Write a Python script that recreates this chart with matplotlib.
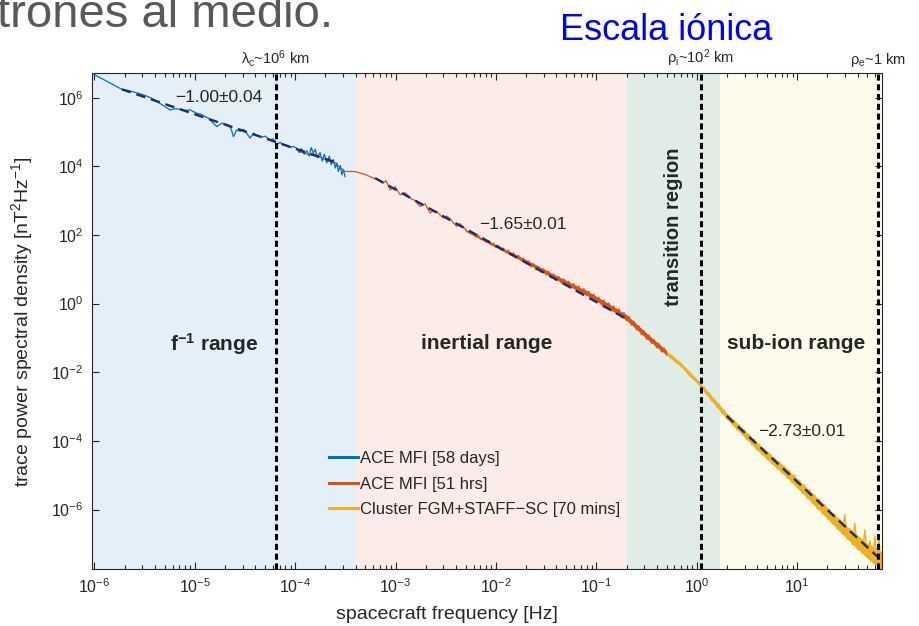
"""Solar wind magnetic field spectrum (f^-1 / inertial / sub-ion ranges)."""
import matplotlib
matplotlib.use('Agg')
import matplotlib.pyplot as plt
import numpy as np
from matplotlib.ticker import LogLocator, LogFormatterSciNotation, NullFormatter

plt.rcParams['font.family'] = ['Liberation Sans', 'DejaVu Sans']
plt.rcParams['mathtext.fontset'] = 'custom'
plt.rcParams['mathtext.rm'] = 'Liberation Sans'
plt.rcParams['mathtext.it'] = 'Liberation Sans:italic'
plt.rcParams['mathtext.bf'] = 'Liberation Sans:bold'

# ---------------------------------------------------------------
# Data (log10 of frequency [Hz] and of PSD [nT^2/Hz])
# ---------------------------------------------------------------
ace58_logf = [-6.026, -5.727, -5.65, -5.562, -5.50, -5.428, -5.33, -5.246, -5.19, -5.146,
              -5.10, -5.047, -4.98, -4.94, -4.897, -4.86, -4.831, -4.78, -4.731, -4.70,
              -4.665, -4.64, -4.615, -4.582, -4.55, -4.516, -4.48, -4.449, -4.416, -4.38,
              -4.333, -4.30, -4.25, -4.22, -4.183, -4.15, -4.12, -4.084, -4.05, -4.02,
              -3.984, -3.96, -3.94, -3.91, -3.884, -3.86, -3.84, -3.819, -3.80, -3.78,
              -3.752, -3.73, -3.71, -3.685, -3.66, -3.64, -3.62, -3.60, -3.585, -3.57,
              -3.55, -3.535, -3.52, -3.503]
ace58_logpsd = [6.71, 6.244, 6.20, 6.128, 6.07, 5.983, 5.80, 5.642, 5.68, 5.66,
                5.63, 5.642, 5.546, 5.52, 5.448, 5.40, 5.30, 5.157, 5.256, 5.24,
                5.20, 5.10, 4.866, 5.061, 5.02, 5.08, 4.95, 4.82, 4.965, 4.90,
                4.849, 4.88, 4.77, 4.80, 4.625, 4.70, 4.62, 4.60, 4.55, 4.58,
                4.529, 4.40, 4.52, 4.35, 4.45, 4.30, 4.55, 4.38, 4.50, 4.25,
                4.40, 4.15, 4.35, 4.10, 4.30, 4.05, 4.20, 3.95, 4.10, 3.85,
                4.02, 3.75, 3.90, 3.70]

ace51_logf = [-3.951, -3.85, -3.752, -3.68, -3.603, -3.503, -3.404, -3.30, -3.221, -3.16,
              -3.122, -3.095, -3.055, -3.005, -2.955, -2.905, -2.855, -2.806, -2.756, -2.706,
              -2.656, -2.62, -2.587, -2.55, -2.524, -2.49, -2.457, -2.42, -2.39, -2.36,
              -2.328, -2.29, -2.257,
              -2.225, -2.20, -2.175, -2.15, -2.125, -2.10, -2.075, -2.05, -2.025, -2.00,
              -1.975, -1.95, -1.925, -1.90, -1.875, -1.85, -1.825, -1.80, -1.775, -1.75,
              -1.725, -1.70, -1.675, -1.65, -1.625, -1.60, -1.575, -1.55, -1.525, -1.50,
              -1.475, -1.45, -1.425, -1.40, -1.375, -1.35, -1.325, -1.30, -1.275, -1.25,
              -1.225, -1.20, -1.175, -1.15, -1.125, -1.10, -1.075, -1.05, -1.025, -1.00,
              -0.975, -0.95, -0.925, -0.90, -0.875, -0.85, -0.825, -0.80, -0.775, -0.75,
              -0.725, -0.70, -0.675, -0.65, -0.625, -0.60, -0.575, -0.55, -0.525, -0.50,
              -0.475, -0.45, -0.425, -0.40, -0.375, -0.35, -0.325, -0.30]
ace51_logpsd = [4.42, 4.33, 4.276, 4.16, 4.10, 3.849, 3.849, 3.76, 3.657, 3.60,
                3.512, 3.58, 3.317, 3.404, 3.172, 3.23, 3.076, 3.00, 2.831, 2.91,
                2.64, 2.72, 2.68, 2.56, 2.494, 2.55, 2.474, 2.34, 2.25, 2.33,
                2.241, 2.12, 2.058,
                2.04, 1.94, 1.99, 1.86, 1.91, 1.79, 1.84, 1.71, 1.76, 1.63,
                1.69, 1.56, 1.62, 1.48, 1.55, 1.40, 1.48, 1.33, 1.41, 1.25,
                1.33, 1.16, 1.25, 1.07, 1.16, 0.98, 1.08, 0.91, 1.01, 0.83,
                0.94, 0.75, 0.86, 0.68, 0.79, 0.60, 0.72, 0.53, 0.65, 0.45,
                0.58, 0.37, 0.51, 0.30, 0.44, 0.23, 0.36, 0.14, 0.28, 0.05,
                0.19, -0.04, 0.11, -0.13, 0.02, -0.22, -0.07, -0.31, -0.16, -0.41,
                -0.26, -0.50, -0.37, -0.63, -0.51, -0.77, -0.65, -0.91, -0.79, -1.04,
                -0.91, -1.16, -1.04, -1.29, -1.16, -1.41, -1.29, -1.50]

# thick noise band of the ACE 51 hrs spectrum
ace51_band_logf = [-2.3, -2.0, -1.7, -1.4, -1.1, -0.9, -0.7, -0.5, -0.3]
ace51_band_lo = [2.10, 1.64, 1.18, 0.70, 0.25, -0.10, -0.48, -1.02, -1.50]
ace51_band_hi = [2.14, 1.72, 1.28, 0.82, 0.38, 0.04, -0.32, -0.86, -1.36]

cluster_logf = [-1.70, -1.65, -1.60, -1.55, -1.50, -1.45, -1.40, -1.35, -1.30, -1.25,
                -1.20, -1.15, -1.10, -1.05, -1.00, -0.95, -0.90, -0.85, -0.80, -0.75,
                -0.70, -0.65, -0.60, -0.55, -0.50, -0.45, -0.40, -0.35, -0.299, -0.25,
                -0.20, -0.167, -0.12, -0.067, -0.03, 0.000,
                0.025, 0.050, 0.075, 0.100, 0.125, 0.150, 0.175, 0.200, 0.225, 0.250,
                0.275, 0.300, 0.325, 0.350, 0.375, 0.400, 0.425, 0.450, 0.475, 0.500,
                0.525, 0.550, 0.575, 0.600, 0.625, 0.650, 0.675, 0.700, 0.725, 0.750,
                0.775, 0.800, 0.825, 0.850, 0.875, 0.900, 0.925, 0.950, 0.975, 1.000,
                1.025, 1.050, 1.075, 1.100, 1.125, 1.150, 1.175, 1.200, 1.225, 1.250,
                1.275, 1.300, 1.325, 1.350, 1.375, 1.400, 1.425, 1.450, 1.475, 1.500,
                1.525, 1.550, 1.575, 1.600, 1.625, 1.650, 1.675, 1.700, 1.725, 1.750,
                1.775, 1.800, 1.815, 1.830, 1.845]
cluster_logpsd = [1.26, 1.10, 1.08, 0.92, 0.95, 0.77, 0.80, 0.62, 0.66, 0.47,
                  0.52, 0.32, 0.37, 0.16, 0.20, 0.00, 0.02, -0.18, -0.15, -0.37,
                  -0.34, -0.60, -0.62, -0.87, -0.88, -1.13, -1.14, -1.38, -1.43, -1.52,
                  -1.66, -1.721, -1.92, -2.11, -2.20, -2.27,
                  -2.27, -2.47, -2.43, -2.65, -2.60, -2.84, -2.77, -3.01, -2.93, -3.19,
                  -3.10, -3.37, -3.26, -3.51, -3.40, -3.67, -3.54, -3.81, -3.68, -3.97,
                  -3.82, -4.11, -3.96, -4.27, -4.10, -4.40, -4.23, -4.54, -4.36, -4.68,
                  -4.49, -4.81, -4.61, -4.94, -4.74, -5.08, -4.87, -5.22, -5.00, -5.37,
                  -5.14, -5.52, -5.28, -5.67, -5.42, -5.82, -5.57, -5.98, -5.71, -6.12,
                  -5.85, -6.27, -5.99, -6.42, -6.13, -6.57, -6.27, -6.72, -6.15, -6.87,
                  -6.56, -7.02, -6.40, -7.16, -6.83, -7.28, -6.59, -7.40, -6.91, -7.51,
                  -6.77, -7.63, -6.76, -7.72, -7.35]

# thick noise band of the Cluster spectrum
band_logf = [-0.3, -0.15, 0.0, 0.3, 0.6, 0.9, 1.2, 1.5, 1.7, 1.84]
band_lo = [-1.50, -1.86, -2.31, -3.37, -4.26, -5.07, -5.96, -6.86, -7.42, -7.78]
band_hi = [-1.38, -1.74, -2.19, -3.19, -4.04, -4.81, -5.66, -6.50, -6.98, -7.22]

# power-law fits
fit_logf = [[-5.727, -3.62], [-3.204, -0.697], [0.299, 1.809]]
fit_logpsd = [[6.244, 4.137], [3.657, -0.45], [-3.273, -7.395]]
fit_labels = ['\u22121.00\u00b10.04', '\u22121.65\u00b10.01', '\u22122.73\u00b10.01']

# characteristic scales
scale_freq = [6.4e-5, 1.1, 64.0]
scale_labels = ['\u03bb$_\\mathrm{c}$~10$^6$ km', '\u03c1$_\\mathrm{i}$~10$^2$ km',
                '\u03c1$_\\mathrm{e}$~1 km']

# shaded ranges
range_edges = [9.4e-7, 4.0e-4, 0.2, 1.7, 69.6]
range_colors = ['#e4eff7', '#fcece7', '#e2ece7', '#fdfbeb']

C_BLUE = '#0072BD'
C_ORANGE = '#D95319'
C_YELLOW = '#EDB120'
C_FIT = '#1d2c6e'
TXT = '#262626'

fig = plt.figure(figsize=(9.19, 6.26), dpi=100)
ax = fig.add_axes([0.0998, 0.0906, 0.8596, 0.7923])

for i, col in enumerate(range_colors):
    ax.axvspan(range_edges[i], range_edges[i + 1], color=col, lw=0, zorder=0)

ax.fill_between(10 ** np.array(band_logf), 10 ** np.array(band_lo), 10 ** np.array(band_hi),
                color=C_YELLOW, lw=0, zorder=1)
ax.plot(10 ** np.array(cluster_logf), 10 ** np.array(cluster_logpsd), color=C_YELLOW, lw=1.0,
        label='Cluster FGM+STAFF\u2212SC [70 mins]', zorder=2)
ax.fill_between(10 ** np.array(ace51_band_logf), 10 ** np.array(ace51_band_lo),
                10 ** np.array(ace51_band_hi), color=C_ORANGE, lw=0, zorder=3)
ax.plot(10 ** np.array(ace51_logf), 10 ** np.array(ace51_logpsd), color=C_ORANGE, lw=0.9,
        label='ACE MFI [51 hrs]', zorder=3)
ax.plot(10 ** np.array(ace58_logf), 10 ** np.array(ace58_logpsd), color=C_BLUE, lw=0.9,
        label='ACE MFI [58 days]', zorder=4)

for lf, lp in zip(fit_logf, fit_logpsd):
    ax.plot(10 ** np.array(lf), 10 ** np.array(lp), color=C_FIT, lw=1.7,
            ls=(0, (4, 2.5)), zorder=5)

for f in scale_freq:
    ax.axvline(f, color='black', lw=2.2, ls=(0, (2, 1.2)), zorder=6)

ax.set_xscale('log')
ax.set_yscale('log')
ax.set_xlim(range_edges[0], range_edges[-1])
ax.set_ylim(10 ** -7.74, 10 ** 6.71)

ax.xaxis.set_major_locator(LogLocator(base=10, numticks=20))
ax.xaxis.set_minor_locator(LogLocator(base=10, subs=np.arange(2, 10), numticks=20))
ax.xaxis.set_minor_formatter(NullFormatter())
ax.yaxis.set_major_locator(LogLocator(base=100, numticks=20))
ax.yaxis.set_minor_locator(LogLocator(base=100, subs=[], numticks=20))
ax.yaxis.set_major_formatter(LogFormatterSciNotation(base=10))
ax.yaxis.set_minor_formatter(NullFormatter())
ax.tick_params(which='both', direction='in', top=True, right=True, colors=TXT,
               labelsize=11.5, width=0.8)
ax.tick_params(which='major', length=5, pad=6)
ax.tick_params(which='minor', length=3)
for s in ax.spines.values():
    s.set_color(TXT)
    s.set_linewidth(0.8)

ax.set_xlabel('spacecraft frequency [Hz]', fontsize=14, color=TXT)
ax.set_ylabel('trace power spectral density [nT$^2$Hz$^{-1}$]', fontsize=14, color=TXT)
ax.xaxis.set_label_coords(0.45, -0.074)
ax.yaxis.set_label_coords(-0.072, 0.5)

# scale labels above the axes
for f, lab in zip(scale_freq, scale_labels):
    ax.text(f, 1.008, lab, transform=ax.get_xaxis_transform(), ha='center', va='bottom',
            fontsize=10.5, color=TXT)

# slope annotations
ax.text(1.75e-5, 10 ** 6.0, fit_labels[0], fontsize=12.5, ha='center', va='center', color=TXT)
ax.text(1.87e-2, 10 ** 2.3, fit_labels[1], fontsize=12.5, ha='center', va='center', color=TXT)
ax.text(11.0, 10 ** -3.72, fit_labels[2], fontsize=12.5, ha='center', va='center', color=TXT)

# range labels
ax.text(1.55e-5, 10 ** -1.17, 'f$^{\\mathbf{-1}}$ range', fontsize=15, fontweight='bold',
        ha='center', va='center', color=TXT)
ax.text(8.05e-3, 10 ** -1.17, 'inertial range', fontsize=15, fontweight='bold',
        ha='center', va='center', color=TXT)
ax.text(9.7, 10 ** -1.17, 'sub-ion range', fontsize=15, fontweight='bold',
        ha='center', va='center', color=TXT)
ax.text(0.587, 10 ** 2.24, 'transition region', fontsize=14.5, fontweight='bold',
        rotation=90, ha='center', va='center', color=TXT)

leg = ax.legend(handles=ax.get_lines()[2::-1], loc='upper left', bbox_to_anchor=(0.30, 0.238),
                frameon=False, fontsize=12, handlelength=1.75, handletextpad=0.1,
                borderpad=0, borderaxespad=0, labelspacing=0.62)
for ln in leg.get_lines():
    ln.set_linewidth(2.2)
for t in leg.get_texts():
    t.set_color(TXT)

# slide text around the figure
fig.text(-0.003, 1 - 27 / 626, 'trones al medio.', fontsize=34, color='#595959',
         ha='left', va='baseline')
fig.text(666 / 919, 1 - 40 / 626, 'Escala iónica', fontsize=26, color='#0000ff',
         ha='center', va='baseline')

fig.savefig('out.png', dpi=100)
